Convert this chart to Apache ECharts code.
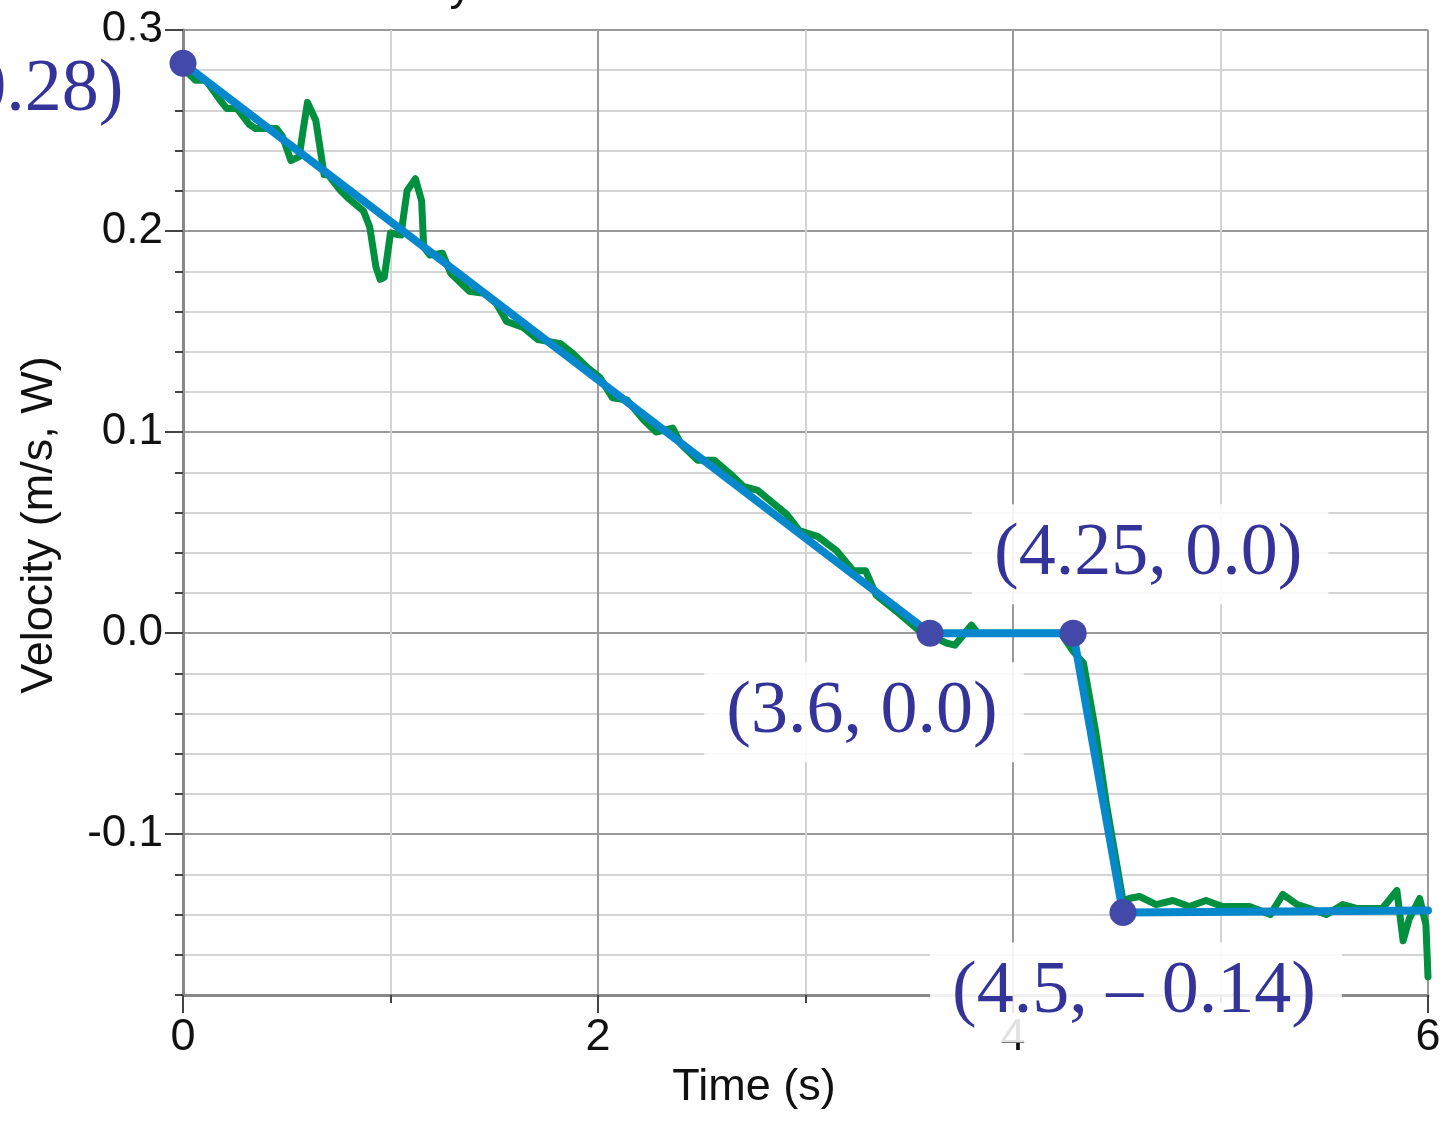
<!DOCTYPE html>
<html><head><meta charset="utf-8">
<script src="https://cdn.jsdelivr.net/npm/echarts@6/dist/echarts.min.js"></script>
<style>html,body{margin:0;padding:0;background:#fff}#c{width:1449px;height:1122px}</style>
</head><body><div id="c"></div>
<script>
// Measured green velocity trace (time in s, velocity in m/s)
const timeData = [0.00,0.06,0.11,0.18,0.21,0.26,0.32,0.35,0.45,0.48,0.52,0.56,0.58,0.60,0.64,0.68,0.70,0.76,0.80,0.87,0.90,0.93,0.95,0.97,1.00,1.05,1.08,1.12,1.15,1.16,1.19,1.25,1.29,1.38,1.45,1.51,1.56,1.64,1.71,1.82,1.88,1.95,2.01,2.07,2.14,2.22,2.28,2.36,2.40,2.48,2.56,2.64,2.70,2.77,2.84,2.91,2.97,3.06,3.15,3.19,3.23,3.29,3.34,3.46,3.55,3.62,3.68,3.72,3.80,3.83,3.90,4.00,4.10,4.23,4.29,4.34,4.40,4.45,4.50,4.53,4.56,4.61,4.69,4.77,4.85,4.93,5.01,5.14,5.24,5.30,5.37,5.43,5.51,5.59,5.66,5.78,5.85,5.88,5.91,5.96,5.99,6.00];
const velocityData = [0.281,0.275,0.275,0.265,0.261,0.261,0.253,0.251,0.251,0.247,0.235,0.237,0.251,0.264,0.255,0.228,0.228,0.220,0.216,0.210,0.202,0.182,0.176,0.177,0.199,0.198,0.220,0.226,0.215,0.192,0.188,0.189,0.179,0.170,0.169,0.164,0.155,0.152,0.146,0.144,0.139,0.132,0.127,0.117,0.116,0.106,0.100,0.102,0.094,0.086,0.086,0.079,0.073,0.071,0.065,0.059,0.051,0.048,0.041,0.036,0.031,0.031,0.019,0.009,0.001,-0.002,-0.005,-0.006,0.004,0.000,0.000,0.000,0.000,0.000,-0.009,-0.015,-0.050,-0.085,-0.115,-0.133,-0.132,-0.131,-0.135,-0.133,-0.136,-0.133,-0.136,-0.136,-0.140,-0.130,-0.135,-0.137,-0.140,-0.135,-0.137,-0.137,-0.128,-0.153,-0.142,-0.132,-0.145,-0.171];
// Piecewise linear fit (blue)
const fitTimes = [0, 3.6, 4.29, 4.53, 6];
const fitValues = [0.2835, 0, 0, -0.139, -0.138];
// Annotated points
const pointTimes = [0, 3.6, 4.29, 4.53];
const pointValues = [0.2835, 0, 0, -0.139];
const pointLabels = ['(0, 0.28)', '(3.6, 0.0)', '(4.25, 0.0)', '(4.5, – 0.14)'];
// Axis ticks
const xTickValues = [0, 2, 4, 6];
const yMajorTicks = [-0.1, 0.0, 0.1, 0.2, 0.3];

const labelOffsets = [[-184, 27], [-66, 79], [77, -79], [13, 80]];

const chart = echarts.init(document.getElementById('c'), null, {renderer: 'canvas'});
const sans = 'Liberation Sans, Arial, sans-serif';
const majorGrid = '#9a9a9a';
const minorGrid = '#d4d4d4';

const option = {
  animation: false,
  backgroundColor: '#ffffff',
  title: {
    text: 'Velocity', left: 312, top: -40,
    textStyle: {fontSize: 45, fontWeight: 'normal', color: '#111', fontFamily: sans}
  },
  grid: {left: 183, right: 21, top: 30, bottom: 127, containLabel: false},
  xAxis: {
    type: 'value', min: 0, max: 6, interval: 2,
    name: 'Time (s)', nameLocation: 'middle', nameGap: 70,
    nameTextStyle: {fontSize: 45, color: '#111', fontFamily: sans, padding: [0, 103, 0, 0]},
    axisLine: {show: true, onZero: false, lineStyle: {color: '#888', width: 3}},
    axisTick: {show: true, length: 18, lineStyle: {color: '#444', width: 2}},
    minorTick: {show: true, splitNumber: 2, length: 8, lineStyle: {color: '#444', width: 2}},
    axisLabel: {fontSize: 45, color: '#111', fontFamily: sans, margin: 20,
      formatter: v => xTickValues.indexOf(Math.round(v)) >= 0 ? String(Math.round(v)) : ''},
    splitLine: {show: true, lineStyle: {color: majorGrid, width: 2}},
    minorSplitLine: {show: true, lineStyle: {color: minorGrid, width: 2}}
  },
  yAxis: [
    {
      type: 'value', min: -0.18, max: 0.3, interval: 0.02, position: 'left',
      axisLine: {show: true, onZero: false, lineStyle: {color: '#888', width: 3}},
      axisTick: {show: true, length: 8, lineStyle: {color: '#444', width: 2}},
      axisLabel: {show: false},
      splitLine: {show: true, lineStyle: {color: minorGrid, width: 2}}
    },
    {
      type: 'value', min: -0.18, max: 0.3, position: 'left',
      name: 'Velocity (m/s, W)', nameLocation: 'middle', nameGap: 121,
      nameTextStyle: {fontSize: 45, color: '#111', fontFamily: sans, padding: [0, 25, 0, 0]},
      axisLine: {show: false},
      axisTick: {show: true, length: 18, customValues: yMajorTicks, lineStyle: {color: '#444', width: 2}},
      axisLabel: {fontSize: 44, color: '#111', fontFamily: sans, margin: 20,
        customValues: yMajorTicks, formatter: v => v.toFixed(1)},
      splitLine: {show: true, lineStyle: {color: majorGrid, width: 2}}
    }
  ],
  series: [
    {
      name: 'measured', type: 'line', xAxisIndex: 0, yAxisIndex: 0,
      data: timeData.map((t, i) => [t, velocityData[i]]),
      showSymbol: false, symbol: 'none', clip: false,
      lineStyle: {color: '#00903f', width: 7, join: 'round', cap: 'round'}, z: 2
    },
    {
      name: 'fit', type: 'line', xAxisIndex: 0, yAxisIndex: 0,
      data: fitTimes.map((t, i) => [t, fitValues[i]]),
      showSymbol: false, symbol: 'none',
      lineStyle: {color: '#0888cc', width: 8, join: 'round', cap: 'round'}, z: 3
    },
    {
      name: 'points', type: 'scatter', xAxisIndex: 0, yAxisIndex: 0,
      symbolSize: 27, itemStyle: {color: '#4349a8', opacity: 1}, z: 4,
      data: pointTimes.map((t, i) => ({
        value: [t, pointValues[i]],
        label: {
          show: true, position: 'inside', offset: labelOffsets[i],
          formatter: pointLabels[i], opacity: 1,
          fontFamily: 'Liberation Serif, Times New Roman, serif', fontSize: 74,
          color: '#333399', backgroundColor: 'rgba(255,255,255,0.88)',
          padding: [20, 26, 6, 22]
        }
      }))
    }
  ]
};
chart.setOption(option);
</script>
</body></html>
